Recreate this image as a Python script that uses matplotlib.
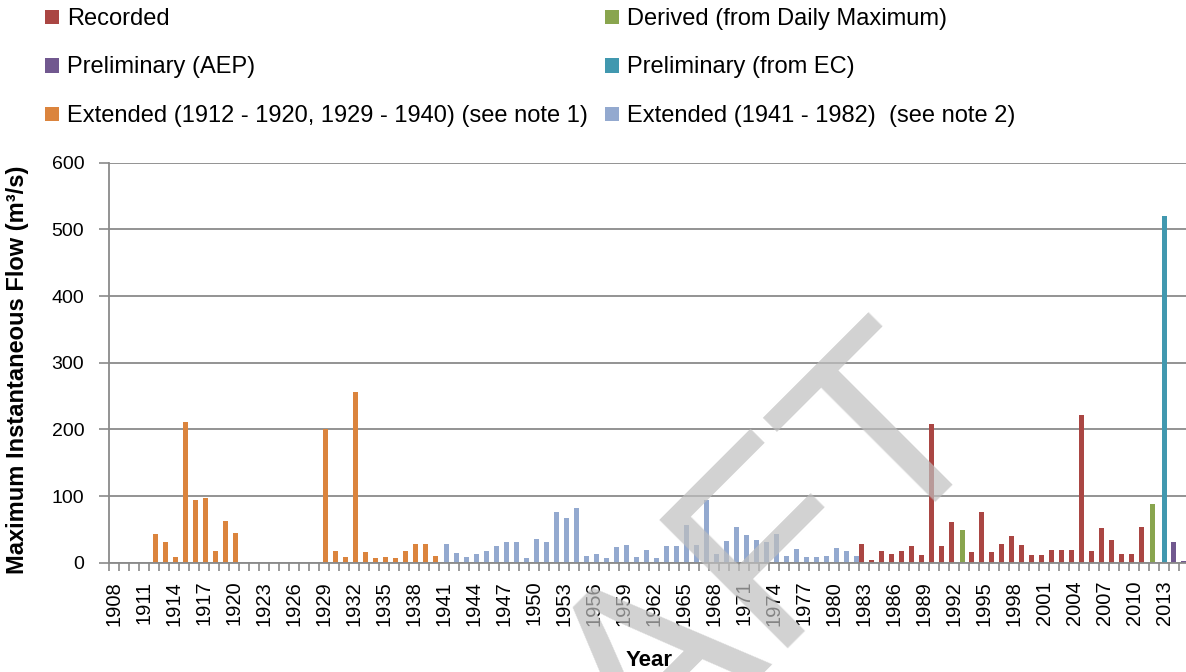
import matplotlib
matplotlib.use("Agg")
import matplotlib.pyplot as plt
from matplotlib.patches import Rectangle

plt.rcParams['font.family'] = ['Liberation Sans', 'DejaVu Sans']

# Category axis: one slot per year
years = list(range(1908, 2016))
tick_years = list(range(1908, 2016, 3))

# Recorded annual peaks
recorded_years = [1983, 1984, 1985, 1986, 1987, 1988, 1989, 1990, 1991, 1992,
                  1994, 1995, 1996, 1997, 1998, 1999, 2000, 2001, 2002, 2003,
                  2004, 2005, 2006, 2007, 2008, 2009, 2010, 2011]
recorded_flow = [28.5, 4.5, 18, 13.5, 17, 24.5, 11, 207.5, 25.5, 60.5,
                 15.5, 75.5, 15.5, 27.5, 40.5, 26, 12, 12, 19, 19.5,
                 19, 221.5, 18, 52.5, 33.5, 12.5, 13.5, 53.5]

# Derived from daily maximum
derived_years = [1993, 2012]
derived_flow = [48.5, 88.5]

# Preliminary (AEP)
aep_years = [2014, 2015]
aep_flow = [30.5, 2.5]

# Preliminary (from EC)
ec_years = [2013]
ec_flow = [520]

# Extended 1912-1920, 1929-1940
ext1_years = [1912, 1913, 1914, 1915, 1916, 1917, 1918, 1919, 1920,
              1929, 1930, 1931, 1932, 1933, 1934, 1935, 1936, 1937, 1938,
              1939, 1940]
ext1_flow = [42.5, 30.5, 8.5, 211, 93.5, 97, 17, 62.5, 44,
             200, 17, 9, 255.5, 16.5, 7, 8, 6.5, 17.5, 28.5,
             27.5, 10]

# Extended 1941-1982
ext2_years = list(range(1941, 1983))
ext2_flow = [27.5, 15.3, 8, 13.6, 17.7, 25.8, 31.8, 31.8, 7, 35.9,
             31.3, 75.8, 67.2, 82.3, 10.6, 13.6, 7.6, 24.2, 27.3, 8,
             19.7, 7.6, 25.3, 25.3, 56, 27.3, 94.4, 13.6, 32.3, 53,
             41.4, 34.8, 31.8, 42.4, 10, 21.2, 9, 9, 10.8, 22.8,
             17, 10.5]

series = [
    ("Recorded", recorded_years, recorded_flow, "#AA4643"),
    ("Derived (from Daily Maximum)", derived_years, derived_flow, "#89A54E"),
    ("Preliminary (AEP)", aep_years, aep_flow, "#71588F"),
    ("Preliminary (from EC)", ec_years, ec_flow, "#4198AF"),
    ("Extended (1912 - 1920, 1929 - 1940) (see note 1)", ext1_years, ext1_flow, "#DB843D"),
    ("Extended (1941 - 1982)  (see note 2)", ext2_years, ext2_flow, "#93A9CF"),
]

W, H = 1186, 672
fig = plt.figure(figsize=(W / 100, H / 100), dpi=100)
ax = fig.add_axes([109.3 / W, (H - 562.7) / H, 1080 / W, 400 / H])

grid_c = "#8a8a8a"
bar_w = 0.5
n = len(series)
for k, (name, yrs, vals, col) in enumerate(series):
    off = (k - (n - 1) / 2) * 0.1
    xs = [years.index(y) + off for y in yrs]
    ax.bar(xs, vals, width=bar_w, color=col, linewidth=0, zorder=3)

ax.set_xlim(-0.5, len(years) - 0.5)
ax.set_ylim(0, 600)

# y axis
ax.set_yticks(range(0, 601, 100))
ax.yaxis.grid(True, color=grid_c, linewidth=1.3, zorder=1)
ax.set_axisbelow(True)
ax.tick_params(axis='y', direction='out', length=7, width=1.2, color=grid_c,
               labelsize=14, pad=11, labelcolor='black')

# x axis: ticks on category boundaries, labels every third year
ax.set_xticks([i - 0.5 for i in range(len(years) + 1)], minor=True)
ax.set_xticks([years.index(y) for y in tick_years])
ax.set_xticklabels([str(y) for y in tick_years], rotation=90)
ax.tick_params(axis='x', which='minor', direction='out', length=5.5, width=1.2,
               color=grid_c)
ax.tick_params(axis='x', which='major', length=0, labelsize=14.5, pad=13,
               labelcolor='black')

for s in ('top', 'right'):
    ax.spines[s].set_visible(False)
for s in ('left', 'bottom'):
    ax.spines[s].set_color(grid_c)
    ax.spines[s].set_linewidth(1.3)
ax.spines['bottom'].set_zorder(4)

fig.text(18 / W, 1 - 370 / H, "Maximum Instantaneous Flow (m³/s)", rotation=90,
         ha='center', va='center', fontsize=17, fontweight='bold')
fig.text(649 / W, 1 - 666.5 / H, "Year", ha='center', va='baseline',
         fontsize=16, fontweight='bold')

# Legend, two columns
col_x = [45, 605]
row_base = [25, 73.5, 122]
for k, (name, yrs, vals, col) in enumerate(series):
    r, c = divmod(k, 2)
    x0 = col_x[c]
    yb = row_base[r]
    fig.add_artist(Rectangle((x0 / W, 1 - (yb - 1) / H), 14 / W, 14 / H,
                             transform=fig.transFigure, facecolor=col,
                             edgecolor='none'))
    fig.text((x0 + 22) / W, 1 - yb / H, name, ha='left', va='baseline',
             fontsize=17, color='black')

# Watermark
fig.text(995 / W, 1 - 420 / H, "DRAFT", rotation=45, rotation_mode='anchor',
         ha='right', va='baseline', fontsize=190, color='#bfbfbf', alpha=0.7,
         zorder=10)

fig.savefig("out.png", dpi=100)
